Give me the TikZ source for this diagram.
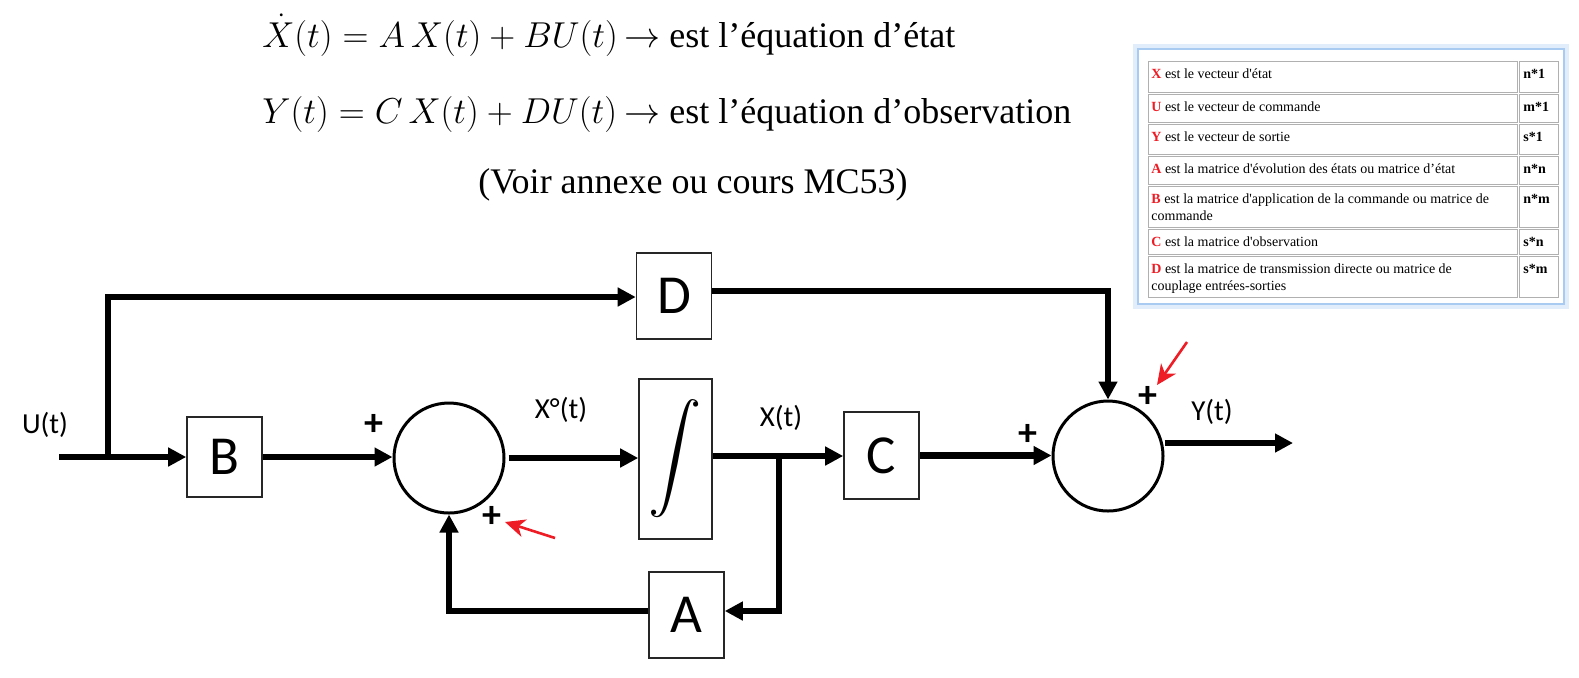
\RequirePackage{fix-cm}
\documentclass[tikz,border=0pt]{standalone}
\usepackage{fontspec}
\setmainfont{Liberation Serif}
\newfontfamily\diafont{Carlito}
\usetikzlibrary{arrows.meta}
\definecolor{redmark}{HTML}{EE1C25}
\definecolor{framebl}{HTML}{A9CBF2}
\definecolor{cellgray}{HTML}{B0B0B0}
\begin{document}
\begin{tikzpicture}[x=0.5pt,y=-0.5pt,
  wire/.style={line width=3.2pt, line join=miter},
  arr/.style={wire, -{Triangle[length=9pt,width=9pt]}},
  blk/.style={draw=black!85, line width=0.8pt, fill=white, minimum width=37.5pt, minimum height=40pt, inner sep=0pt, font=\diafont\fontsize{27.5}{30}\selectfont},
  sumc/.style={circle, draw, line width=1.5pt, minimum size=55pt, inner sep=0pt},
  lbl/.style={font=\diafont\fontsize{14.5}{16}\selectfont, inner sep=0pt},
  pls/.style={font=\diafont\bfseries\fontsize{19}{20}\selectfont, inner sep=0pt},
  eq/.style={font=\fontsize{18}{22}\selectfont, inner sep=0pt, anchor=base west},
  redarr/.style={draw=redmark, line width=1.3pt, -{Stealth[length=10pt,width=9pt,inset=3pt]}},
  tb/.style={font=\fontsize{7}{8.35}\selectfont, inner sep=0pt, anchor=base west},
  cell/.style={draw=cellgray, line width=0.5pt},
]
\useasboundingbox (0,0) rectangle (1579,677);

% equations
\node[eq] (eq1) at (262,47) {$\dot{X}(t) = A\,X(t) + BU(t)$};
\node[eq] (eq1t) at (624,47) {$\rightarrow$ est l’équation d’état};
\node[eq] (eq2) at (262,123) {$Y(t) = C\,X(t) + DU(t)$};
\node[eq] (eq2t) at (624,123) {$\rightarrow$ est l’équation d’observation};
\node[eq, anchor=base] (eq3) at (693,193) {(Voir annexe ou cours MC53)};

% blocks
\node[blk] (B) at (224.5,457) {B};
\node[blk, minimum height=43pt] (D) at (674,296) {D};
\node[blk, minimum width=36.5pt, minimum height=80pt, font=\fontsize{10}{12}\selectfont] (I) at (675.5,459) {\scalebox{2.66}{$\displaystyle\int$}};
\node[blk, minimum height=43.5pt] (C) at (881.5,455.5) {C};
\node[blk, minimum height=43pt] (A) at (686.5,615) {A};
\node[sumc] (S1) at (449,458) {};
\node[sumc] (S2) at (1108,456) {};

% labels
\node[lbl] (lu) at (45,425) {U(t)};
\node[lbl] (lxd) at (561,410) {X°(t)};
\node[lbl] (lx) at (781,418) {X(t)};
\node[lbl] (ly) at (1212,412) {Y(t)};
\node[pls] (p1) at (374,425) {+};
\node[pls] (p2) at (492,517) {+};
\node[pls] (p3) at (1028,435) {+};
\node[pls] (p4) at (1148,397) {+};

% connectors
\coordinate (in) at (59,457);
\coordinate (ub) at (108,457);
\coordinate (ut) at (108,297);
\coordinate (xb) at (779,456);
\coordinate (fbr) at (779,611);
\coordinate (fbl) at (449,611);
\coordinate (dt) at (1108,291);
\coordinate (yo) at (1293,443);
\draw[arr] (in) -- (B.west);
\draw[arr] (ub) -- (ut) -- (D.west |- ut);
\draw[arr] (B.east) -- (B.east -| S1.west);
\draw[arr] ([xshift=1.5pt]S1.east) -- (S1.east -| I.west);
\draw[arr] (I.east |- xb) -- (xb -| C.west);
\draw[arr] (xb) -- (fbr) -- (fbr -| A.east);
\draw[arr] (fbl -| A.west) -- (fbl) -- (S1.south);
\draw[arr] (C.east) -- (C.east -| S2.west);
\draw[arr] (D.east |- dt) -- (dt) -- (S2.north);
\draw[arr] (S2.east |- yo) -- (yo);

% red markers
\coordinate (r1a) at (555,538);
\coordinate (r1b) at (505,522);
\coordinate (r2a) at (1187,342);
\coordinate (r2b) at (1157,385);
\draw[redarr] (r1a) -- (r1b);
\draw[redarr] (r2a) -- (r2b);

% table frame
\draw[framebl!35, line width=3pt] (1136,47) rectangle (1566,306);
\draw[framebl, line width=1pt] (1138,49) rectangle (1564,304);
\foreach \a/\b in {60/93, 93/123, 123/155, 155/185, 185/228, 228/255, 255/298} {
  \draw[cell] (1148,\a+1) rectangle (1517,\b-1);
  \draw[cell] (1519,\a+1) rectangle (1558,\b-1);
}
\node[tb] (t1) at (1151,78) {\textcolor{redmark}{\textbf{X}} est le vecteur d\textquotesingle état};
\node[tb] (t2) at (1151,111) {\textcolor{redmark}{\textbf{U}} est le vecteur de commande};
\node[tb] (t3) at (1151,141) {\textcolor{redmark}{\textbf{Y}} est le vecteur de sortie};
\node[tb] (t4) at (1151,173) {\textcolor{redmark}{\textbf{A}} est la matrice d\textquotesingle évolution des états ou matrice d’état};
\node[tb] (t5) at (1151,203) {\textcolor{redmark}{\textbf{B}} est la matrice d\textquotesingle application de la commande ou matrice de};
\node[tb] (t5b) at (1151,220) {commande};
\node[tb] (t6) at (1151,246) {\textcolor{redmark}{\textbf{C}} est la matrice d\textquotesingle observation};
\node[tb] (t7) at (1151,273) {\textcolor{redmark}{\textbf{D}} est la matrice de transmission directe ou matrice de};
\node[tb] (t7b) at (1151,290) {couplage entrées-sorties};
\node[tb] (d1) at (1523,78) {\textbf{n*1}};
\node[tb] (d2) at (1523,111) {\textbf{m*1}};
\node[tb] (d3) at (1523,141) {\textbf{s*1}};
\node[tb] (d4) at (1523,173) {\textbf{n*n}};
\node[tb] (d5) at (1523,203) {\textbf{n*m}};
\node[tb] (d6) at (1523,246) {\textbf{s*n}};
\node[tb] (d7) at (1523,273) {\textbf{s*m}};
\end{tikzpicture}
\end{document}
